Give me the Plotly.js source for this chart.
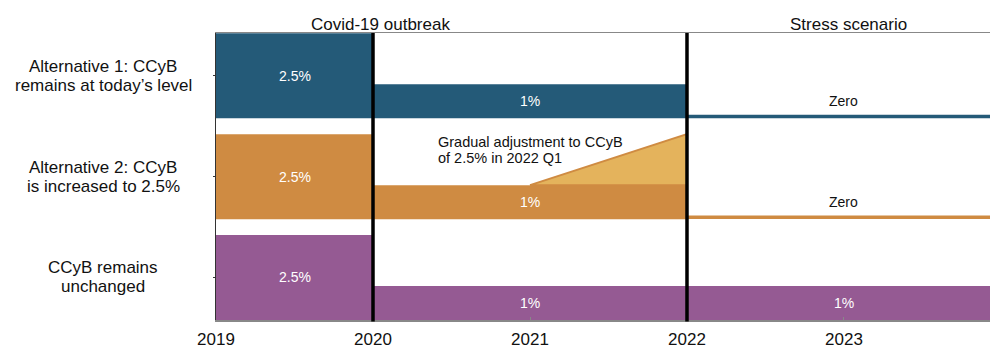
<!DOCTYPE html>
<html>
<head>
<meta charset="utf-8">
<script src="https://cdn.plot.ly/plotly-3.0.1.min.js"></script>
<style>html,body{margin:0;padding:0;background:#fff;}#chart{width:990px;height:350px;}</style>
</head>
<body>
<div id="chart"></div>
<script>
// ---- data ----
const rowLabels = [
  ["Alternative 1: CCyB", "remains at today\u2019s level"],
  ["Alternative 2: CCyB", "is increased to 2.5%"],
  ["CCyB remains", "unchanged"]
];
const segStart = [[2019, 2020, 2022], [2019, 2020, 2022], [2019, 2020, 2022]];
const segEnd   = [[2020, 2022, 2024], [2020, 2022, 2024], [2020, 2022, 2024]];
const segValue = [[2.5, 1, 0], [2.5, 1, 0], [2.5, 1, 1]];
const rowColors = ["#245a78", "#cf8b42", "#955a93"];
const rampRow = 1;
const rampX = [2021, 2022];
const rampY = [1, 2.5];
const eventYears = [2020, 2022];
const phaseLabels = ["Covid-19 outbreak", "Stress scenario"];
const phaseX = [2020.05, 2023.03];
const noteLines = ["Gradual adjustment to CCyB", "of 2.5% in 2022 Q1"];
const noteX = 2020.41;
const noteY = 2.04; // in CCyB units above the row base
const xTicks = [2019, 2020, 2021, 2022, 2023];

// ---- layout constants ----
const ROW_STEP = 2.965;
const nRows = rowLabels.length;
const rowBase = rowLabels.map((_, i) => (nRows - 1 - i) * ROW_STEP);
const FONT = "Liberation Sans, Arial, Helvetica, sans-serif";

const traces = [];
const annotations = [];

rowLabels.forEach((lab, i) => {
  const xs = [], ys = [], bs = [], ws = [];
  segValue[i].forEach((v, j) => {
    const mid = (segStart[i][j] + segEnd[i][j]) / 2;
    xs.push(mid); ys.push(v); bs.push(rowBase[i]); ws.push(segEnd[i][j] - segStart[i][j]);
    if (v > 0) {
      annotations.push({x: mid, y: rowBase[i] + v / 2, xref: "x", yref: "y", text: v + "%",
        showarrow: false, font: {family: FONT, size: 14, color: "#ffffff"}});
    } else {
      traces.push({type: "scatter", mode: "lines", x: [segStart[i][j], segEnd[i][j]],
        y: [rowBase[i] + 0.055, rowBase[i] + 0.055], line: {color: rowColors[i], width: 3.5},
        hoverinfo: "skip", showlegend: false});
      annotations.push({x: mid, y: rowBase[i] + 0.5, xref: "x", yref: "y", text: "Zero",
        showarrow: false, font: {family: FONT, size: 14, color: "#111111"}});
    }
  });
  traces.push({type: "bar", x: xs, y: ys, base: bs, width: ws,
    marker: {color: rowColors[i], line: {width: 0}}, hoverinfo: "skip", showlegend: false});
  // row labels
  lab.forEach((t, k) => {
    annotations.push({xref: "paper", yref: "y", x: (103 - 216) / 774, y: rowBase[i] + 1.25,
      yshift: (lab.length - 1) * 9.5 - k * 19, text: t, showarrow: false, xanchor: "center",
      font: {family: FONT, size: 17, color: "#111111"}});
  });
});

// ramp (gradual adjustment)
traces.push({type: "scatter", mode: "lines", fill: "toself",
  x: [rampX[0], rampX[1], rampX[1], rampX[0]],
  y: [rowBase[rampRow] + rampY[0], rowBase[rampRow] + rampY[1], rowBase[rampRow] + rampY[0], rowBase[rampRow] + rampY[0]],
  fillcolor: "#e4b35c", line: {color: "#cf8b42", width: 2}, hoverinfo: "skip", showlegend: false});

noteLines.forEach((t, k) => {
  annotations.push({x: noteX, y: rowBase[rampRow] + noteY, xref: "x", yref: "y", yshift: 8 - k * 16,
    text: t, showarrow: false, xanchor: "left", borderpad: 0,
    font: {family: FONT, size: 14.5, color: "#111111"}});
});

phaseLabels.forEach((t, k) => {
  annotations.push({x: phaseX[k], y: 1, xref: "x", yref: "paper", yanchor: "middle", yshift: 9,
    text: t, showarrow: false, font: {family: FONT, size: 17, color: "#111111"}});
});

const shapes = eventYears.map(yr => ({type: "line", xref: "x", yref: "paper", x0: yr, x1: yr, y0: -0.005, y1: 1,
  line: {color: "#000000", width: 3.5}, layer: "above"}));

const layout = {
  width: 990, height: 350,
  margin: {l: 216, r: 0, t: 33, b: 30, pad: 0},
  paper_bgcolor: "#ffffff", plot_bgcolor: "#ffffff",
  barmode: "overlay",
  showlegend: false,
  font: {family: FONT, size: 17, color: "#111111"},
  xaxis: {range: [2019, 2023.93], tickvals: xTicks, ticktext: xTicks.map(String),
    showgrid: false, zeroline: false, showline: true, mirror: true, linecolor: "#888888", linewidth: 1.5,
    ticks: "inside", ticklen: 3, tickcolor: "#888888", ticklabelstandoff: 3,
    tickfont: {family: FONT, size: 17, color: "#111111"}, fixedrange: true},
  yaxis: {range: [0, 8.44], tickvals: rowBase.map(b => b + 1.25), ticktext: rowBase.map(() => ""),
    showgrid: false, zeroline: false, showline: true, linecolor: "#333333", linewidth: 1.2,
    ticks: "outside", ticklen: 2, tickcolor: "#333333", fixedrange: true},
  shapes: shapes,
  annotations: annotations
};

Plotly.newPlot("chart", traces, layout, {displayModeBar: false, staticPlot: true});
</script>
</body>
</html>
